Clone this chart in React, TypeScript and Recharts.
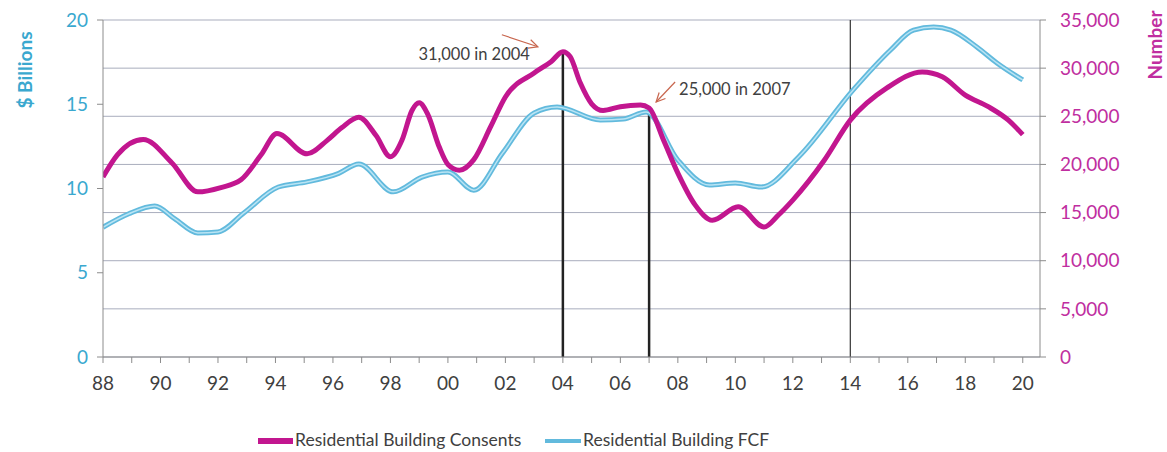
import React from 'react';
import { LineChart, Line, XAxis, YAxis, CartesianGrid, Legend, ReferenceLine, ReferenceDot } from 'recharts';

const consentYears = [1988.0, 1988.5, 1989.4, 1990.4, 1991.3, 1992.1, 1992.8, 1993.5, 1994.05, 1995.1, 1995.8, 1996.3, 1996.9, 1997.5, 1998.0, 1998.4, 1998.75, 1999.0, 1999.3, 1999.7, 2000.0, 2000.4, 2000.9, 2001.5, 2002.0, 2003.0, 2003.6, 2004.0, 2004.25, 2004.6, 2005.0, 2005.4, 2006.0, 2006.7, 2007.0, 2007.5, 2008.0, 2008.6, 2009.2, 2010.1, 2011.0, 2011.5, 2012.0, 2013.1, 2014.0, 2015.3, 2016.5, 2017.2, 2018.0, 2018.8, 2019.5, 2020.0];
const consentValues = [18700, 21000, 22600, 20150, 17150, 17600, 18400, 21000, 23200, 21100, 22500, 23800, 24900, 23000, 20800, 22500, 25600, 26400, 25200, 21800, 20000, 19400, 20500, 24000, 27000, 29500, 30700, 31700, 31200, 28500, 26300, 25600, 26000, 26170, 25860, 22540, 19100, 15800, 14200, 15600, 13500, 14750, 16300, 20460, 24600, 28000, 29600, 29100, 27200, 26000, 24600, 23100];

const fcfYears = [1988.0, 1988.9, 1989.8, 1990.5, 1991.3, 1992.0, 1992.9, 1994.1, 1995.1, 1996.2, 1996.9, 1998.1, 1999.1, 2000.0, 2000.9, 2001.9, 2003.0, 2003.8, 2005.3, 2006.1, 2006.9, 2008.0, 2009.1, 2010.0, 2010.9, 2012.2, 2014.1, 2015.4, 2016.2, 2016.9, 2017.5, 2018.4, 2019.1, 2020.0];
const fcfValues = [7.7, 8.5, 8.96, 8.2, 7.36, 7.42, 8.55, 10.09, 10.39, 10.9, 11.45, 9.8, 10.68, 10.98, 9.9, 12.1, 14.48, 14.84, 14.07, 14.12, 14.54, 11.69, 10.21, 10.33, 10.09, 11.87, 15.85, 18.22, 19.4, 19.58, 19.4, 18.4, 17.45, 16.44];

const xTicks = [1988, 1989, 1990, 1991, 1992, 1993, 1994, 1995, 1996, 1997, 1998, 1999, 2000, 2001, 2002, 2003, 2004, 2005, 2006, 2007, 2008, 2009, 2010, 2011, 2012, 2013, 2014, 2015, 2016, 2017, 2018, 2019, 2020];
const leftTicks = [0, 5, 10, 15, 20];
const rightTicks = [0, 5000, 10000, 15000, 20000, 25000, 30000, 35000];

const peakYear = 2004;
const peakValue = 31700;
const peakLabel = '31,000 in 2004';
const secondYear = 2007;
const secondValue = 25860;
const secondLabel = '25,000 in 2007';
const markerYear = 2014;

const consentsName = 'Residential Building Consents';
const fcfName = 'Residential Building FCF';

const consentData = consentYears.map((x, i) => ({ x, v: consentValues[i] }));
const fcfData = fcfYears.map((x, i) => ({ x, v: fcfValues[i] }));

const FONT = 'Lato, "Open Sans", sans-serif';
const MAGENTA = '#C2168F';
const BLUE = '#62BADD';
const BLUE_LIGHT = '#B9E4F4';
const ARROW = '#C8664E';

const fmtYear = (v: number) => (v % 2 === 0 ? String(v % 100).padStart(2, '0') : '');
const fmtNum = (v: number) => v.toLocaleString('en-US');

const Arrow = ({ x1, y1, x2, y2 }: { x1: number; y1: number; x2: number; y2: number }) => {
  const ang = Math.atan2(y2 - y1, x2 - x1);
  const L = 10;
  const a1 = ang + Math.PI - 0.45;
  const a2 = ang + Math.PI + 0.45;
  return (
    <g stroke={ARROW} strokeWidth={1.2} fill="none">
      <line x1={x1} y1={y1} x2={x2} y2={y2} />
      <polyline points={`${x2 + L * Math.cos(a1)},${y2 + L * Math.sin(a1)} ${x2},${y2} ${x2 + L * Math.cos(a2)},${y2 + L * Math.sin(a2)}`} />
    </g>
  );
};

const PeakShape = (props: any) => {
  const { cx, cy } = props;
  return (
    <g>
      <text x={cx - 33} y={cy + 8} textAnchor="end" fontFamily={FONT} fontSize={16.5} fill="#404040">{peakLabel}</text>
      <Arrow x1={cx - 61} y1={cy - 17} x2={cx - 25} y2={cy - 5} />
    </g>
  );
};

const SecondShape = (props: any) => {
  const { cx, cy } = props;
  return (
    <g>
      <text x={cx + 30} y={cy - 13} textAnchor="start" fontFamily={FONT} fontSize={16.5} fill="#404040">{secondLabel}</text>
      <Arrow x1={cx + 26} y1={cy - 26} x2={cx + 7} y2={cy - 6} />
    </g>
  );
};

const LegendContent = () => (
  <div style={{ position: 'relative', height: 55, width: 1167, fontFamily: FONT, fontSize: 17.5, color: '#404040' }}>
    <div style={{ position: 'absolute', left: 258, top: 41, width: 35, height: 6, background: MAGENTA }} />
    <div style={{ position: 'absolute', left: 295, top: 32, lineHeight: '22px', whiteSpace: 'nowrap' }}>{consentsName}</div>
    <div style={{ position: 'absolute', left: 545, top: 42, width: 36, height: 4, background: BLUE }} />
    <div style={{ position: 'absolute', left: 583, top: 32, lineHeight: '22px', whiteSpace: 'nowrap' }}>{fcfName}</div>
  </div>
);

export default function App() {
  return (
    <div style={{ position: 'absolute', left: 0, top: 0, width: 1167, height: 452, background: '#fff' }}>
      <LineChart width={1167} height={452} margin={{ top: 20, right: 60, left: 40, bottom: 0 }}>
        <CartesianGrid yAxisId="right" vertical={false} stroke="#A9ADBD" strokeWidth={1} />
        <XAxis
          type="number"
          dataKey="x"
          domain={[1988, 2020.6]}
          ticks={xTicks}
          interval={0}
          tickFormatter={fmtYear}
          height={40}
          stroke="#8C8C8C"
          tickSize={6}
          tickMargin={14}
          tick={{ fill: '#404040', fontSize: 19, fontFamily: FONT }}
          allowDataOverflow
        />
        <YAxis
          yAxisId="left"
          orientation="left"
          domain={[0, 20]}
          ticks={leftTicks}
          width={63}
          stroke="#8C8C8C"
          tickSize={6}
          tickMargin={9}
          tick={{ fill: '#3AA8CF', fontSize: 19, fontFamily: FONT }}
          label={(p: any) => {
            const vb = p.viewBox;
            const x = vb.x - 16;
            const y = vb.y + 50;
            return (
              <text x={x} y={y} transform={`rotate(-90 ${x} ${y})`} textAnchor="middle" dominantBaseline="central" fontFamily={FONT} fontWeight="bold" fontSize={19} fill="#3AA8CF">$ Billions</text>
            );
          }}
        />
        <YAxis
          yAxisId="right"
          orientation="right"
          domain={[0, 35000]}
          ticks={rightTicks}
          width={67}
          stroke="#8C8C8C"
          tickSize={6}
          tickMargin={14}
          tickFormatter={fmtNum}
          tick={{ fill: '#C02EA0', fontSize: 19, fontFamily: FONT, textAnchor: 'start' }}
          label={(p: any) => {
            const vb = p.viewBox;
            const x = vb.x + 114;
            const y = vb.y + 25;
            return (
              <text x={x} y={y} transform={`rotate(-90 ${x} ${y})`} textAnchor="middle" dominantBaseline="central" fontFamily={FONT} fontWeight="bold" fontSize={19} fill="#C02EA0">Number</text>
            );
          }}
        />
        <ReferenceLine yAxisId="right" x={markerYear} stroke="#333" strokeWidth={1.2} />
        <ReferenceLine yAxisId="right" segment={[{ x: peakYear, y: 0 }, { x: peakYear, y: peakValue }]} stroke="#222" strokeWidth={2.5} />
        <ReferenceLine yAxisId="right" segment={[{ x: secondYear, y: 0 }, { x: secondYear, y: secondValue }]} stroke="#222" strokeWidth={2.5} />
        <Line yAxisId="left" data={fcfData} dataKey="v" type="monotone" stroke={BLUE} strokeWidth={5} dot={false} isAnimationActive={false} legendType="none" />
        <Line yAxisId="left" data={fcfData} dataKey="v" type="monotone" stroke={BLUE_LIGHT} strokeWidth={1.5} dot={false} isAnimationActive={false} legendType="none" />
        <Line yAxisId="right" data={consentData} dataKey="v" type="monotone" stroke={MAGENTA} strokeWidth={5} dot={false} isAnimationActive={false} legendType="none" />
        <ReferenceDot yAxisId="right" x={peakYear} y={peakValue} shape={PeakShape} />
        <ReferenceDot yAxisId="right" x={secondYear} y={secondValue} shape={SecondShape} />
        <Legend verticalAlign="bottom" height={55} wrapperStyle={{ left: 0, width: 1167 }} content={LegendContent} />
      </LineChart>
    </div>
  );
}
